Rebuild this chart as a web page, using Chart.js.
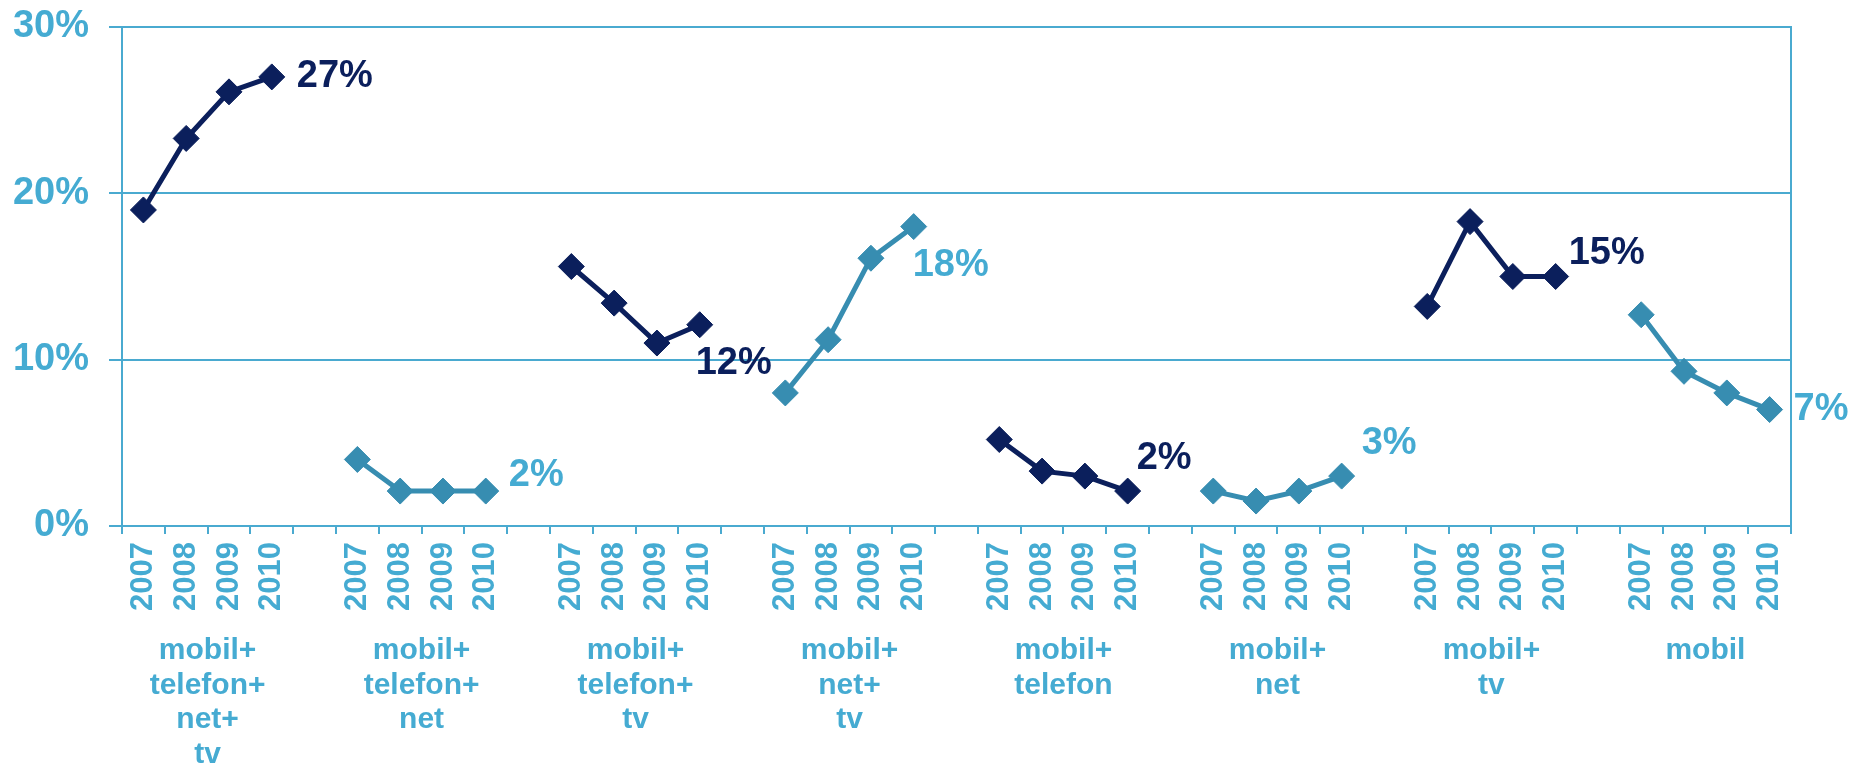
<!DOCTYPE html>
<html>
<head>
<meta charset="utf-8">
<script src="https://cdn.jsdelivr.net/npm/chart.js@4"></script>
<style>
  html, body { margin: 0; padding: 0; background: #ffffff; }
  #wrap { position: relative; width: 1857px; height: 763px; }
</style>
</head>
<body>
<div id="wrap"><canvas id="c" width="1857" height="763"></canvas></div>
<script>
// ---- data ----
const years = ['2007', '2008', '2009', '2010'];
const groupNames = [
  ['mobil+', 'telefon+', 'net+', 'tv'],
  ['mobil+', 'telefon+', 'net'],
  ['mobil+', 'telefon+', 'tv'],
  ['mobil+', 'net+', 'tv'],
  ['mobil+', 'telefon'],
  ['mobil+', 'net'],
  ['mobil+', 'tv'],
  ['mobil']
];
const mobilTelefonNetTv = [19.0, 23.3, 26.1, 27.0];
const mobilTelefonNet   = [4.0, 2.1, 2.1, 2.1];
const mobilTelefonTv    = [15.6, 13.4, 11.0, 12.1];
const mobilNetTv        = [8.0, 11.2, 16.1, 18.0];
const mobilTelefon      = [5.2, 3.3, 3.0, 2.1];
const mobilNet          = [2.1, 1.5, 2.1, 3.0];
const mobilTv           = [13.2, 18.3, 15.0, 15.0];
const mobil             = [12.7, 9.3, 8.0, 7.0];
const endLabels = ['27%', '2%', '12%', '18%', '2%', '3%', '15%', '7%'];
const yTicks = [0, 10, 20, 30];

// ---- styles ----
const NAVY = '#0b1f5c';
const TEAL = '#378db1';
const LIGHT = '#45abd2';
const GRID = '#4aaad0';
const seriesList = [mobilTelefonNetTv, mobilTelefonNet, mobilTelefonTv, mobilNetTv, mobilTelefon, mobilNet, mobilTv, mobil];
const lineColors = [NAVY, TEAL, NAVY, TEAL, NAVY, TEAL, NAVY, TEAL];
const labelColors = [NAVY, LIGHT, NAVY, LIGHT, NAVY, LIGHT, NAVY, LIGHT];
const labelOffsets = [[25, 0], [23, -16], [-4, 39], [-1, 39], [9, -33], [20, -33], [13, -23], [24, 0]];

// ---- build categories: 4 years per group, one empty slot between groups ----
const categories = [];
const groupStart = [];
groupNames.forEach((g, gi) => {
  groupStart.push(categories.length);
  years.forEach(y => categories.push(y));
  if (gi < groupNames.length - 1) categories.push('');
});

const datasets = seriesList.map((vals, gi) => {
  const data = categories.map(() => null);
  vals.forEach((v, i) => { data[groupStart[gi] + i] = v; });
  return {
    label: groupNames[gi].join(' '),
    data,
    borderColor: lineColors[gi],
    backgroundColor: lineColors[gi],
    borderWidth: 5,
    pointStyle: 'rectRot',
    pointRadius: 13,
    pointBorderWidth: 1,
    pointHoverRadius: 13,
    spanGaps: false,
    tension: 0
  };
});

const endLabelPlugin = {
  id: 'endLabels',
  afterDatasetsDraw(chart) {
    const ctx = chart.ctx;
    ctx.save();
    ctx.font = 'bold 38px "Liberation Sans", Arial, sans-serif';
    ctx.textAlign = 'left';
    ctx.textBaseline = 'middle';
    chart.data.datasets.forEach((ds, gi) => {
      const meta = chart.getDatasetMeta(gi);
      const pt = meta.data[groupStart[gi] + years.length - 1];
      if (!pt) return;
      ctx.fillStyle = labelColors[gi];
      ctx.fillText(endLabels[gi], pt.x + labelOffsets[gi][0], pt.y + labelOffsets[gi][1]);
    });
    ctx.restore();
  }
};

const groupLabelPlugin = {
  id: 'groupLabels',
  afterDraw(chart) {
    const ctx = chart.ctx;
    const xs = chart.scales.x;
    ctx.save();
    ctx.font = 'bold 30px "Liberation Sans", Arial, sans-serif';
    ctx.textAlign = 'center';
    ctx.textBaseline = 'alphabetic';
    ctx.fillStyle = LIGHT;
    groupNames.forEach((lines, gi) => {
      const cx = (xs.getPixelForValue(groupStart[gi] + 1) + xs.getPixelForValue(groupStart[gi] + 2)) / 2;
      lines.forEach((ln, li) => {
        ctx.fillText(ln, cx, chart.chartArea.bottom + 133 + li * 34.7);
      });
    });
    ctx.restore();
  }
};

new Chart(document.getElementById('c'), {
  type: 'line',
  data: { labels: categories, datasets },
  plugins: [endLabelPlugin, groupLabelPlugin],
  options: {
    responsive: false,
    animation: false,
    layout: { padding: { left: 0, right: 66, top: 27, bottom: 0 } },
    plugins: { legend: { display: false }, tooltip: { enabled: false } },
    scales: {
      x: {
        type: 'category',
        offset: true,
        grid: { offset: true, drawOnChartArea: false, drawTicks: true, tickLength: 8, color: GRID, lineWidth: 2 },
        border: { display: true, color: GRID, width: 2 },
        ticks: {
          autoSkip: false, minRotation: 90, maxRotation: 90, padding: 8,
          color: LIGHT,
          font: { family: '"Liberation Sans Narrow", "Liberation Sans", Arial, sans-serif', size: 31, weight: 'bold' }
        },
        afterFit(scale) { scale.height = 237; }
      },
      y: {
        min: 0, max: 30,
        afterBuildTicks(scale) { scale.ticks = yTicks.map(v => ({ value: v })); },
        grid: { color: GRID, lineWidth: 2, tickLength: 13, drawTicks: true },
        border: { display: true, color: GRID, width: 2 },
        ticks: {
          padding: 20, color: LIGHT,
          font: { family: '"Liberation Sans", Arial, sans-serif', size: 38, weight: 'bold' },
          callback: v => v + '%'
        },
        afterFit(scale) { scale.width = 122; scale.paddingTop = 0; scale.paddingBottom = 0; }
      },
      y2: {
        position: 'right', min: 0, max: 30,
        grid: { display: false, drawTicks: false },
        border: { display: true, color: GRID, width: 2 },
        ticks: { display: false },
        afterFit(scale) { scale.width = 0; scale.paddingTop = 0; scale.paddingBottom = 0; }
      }
    }
  }
});
</script>
</body>
</html>
